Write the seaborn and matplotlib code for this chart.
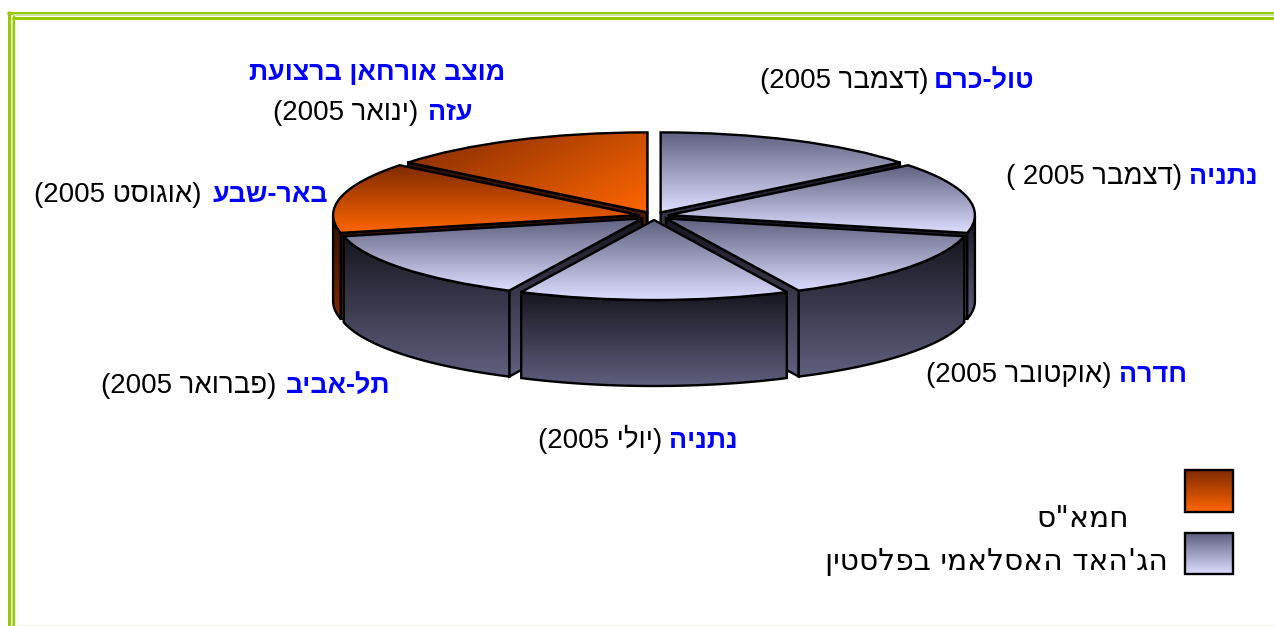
import re
import numpy as np
import matplotlib
matplotlib.use("Agg")
import matplotlib.pyplot as plt
from matplotlib.patches import Polygon, Rectangle
import seaborn as sns

# ---------- data ----------
places = ["טול-כרם", "נתניה", "חדרה", "נתניה", "תל-אביב", "באר-שבע", "עזה"]
dates = ["(דצמבר 2005)", "(דצמבר 2005 )", "(אוקטובר 2005)", "(יולי 2005)",
         "(פברואר 2005)", "(אוגוסט 2005)", "(ינואר 2005)"]
attack_counts = [1, 1, 1, 1, 1, 1, 1]
groups = ["ג", "ג", "ג", "ג", "ג", "ח", "ח"]
extra_label = "מוצב אורחאן ברצועת"
legend_hamas = 'חמא"ס'
legend_jihad = "הג'האד האסלאמי בפלסטין"

# ---------- layout / style ----------
W, H = 1274, 626
CX, CY, RX, RY = 654, 216, 306, 80
DEPTH = 86 / RY
EXPLODE = 0.05
LW = 1.7
top_cmap = {"ג": sns.blend_palette(["#5F5F7F", "#DDDDFF"], as_cmap=True),
            "ח": sns.blend_palette(["#7F2A00", "#FF6600"], as_cmap=True)}
side_cmap = {"ג": sns.blend_palette(["#16161F", "#5F5F7F"], as_cmap=True),
             "ח": sns.blend_palette(["#2E1000", "#7F2A00"], as_cmap=True)}

sns.set_theme(style="white")
plt.rcParams["font.family"] = ["Liberation Sans", "DejaVu Sans"]


def visual(s):
    """matplotlib lays text out left to right, so put Hebrew in display order."""
    r = s[::-1]
    r = re.sub(r"\d+", lambda m: m.group(0)[::-1], r)
    return r.translate(str.maketrans("()", ")("))


def gradient_fill(ax, patch, xs, ys, cmap, zorder):
    ax.add_patch(patch)
    patch.set_zorder(zorder + 0.5)
    v = np.linspace(0, 1, 200)[:, None]
    im = ax.imshow(v, extent=(np.min(xs), np.max(xs), np.min(ys), np.max(ys)), origin="upper",
                   cmap=cmap, vmin=0, vmax=1, aspect="auto", zorder=zorder,
                   interpolation="bilinear")
    im.set_clip_path(patch)


fig = plt.figure(figsize=(W / 100, H / 100), dpi=100, facecolor="white")
ax = fig.add_axes([0, 0, 1, 1])
wedges, _ = ax.pie(attack_counts, explode=[EXPLODE] * len(attack_counts), startangle=90,
                   counterclock=False, radius=1, center=(0, 0),
                   wedgeprops=dict(facecolor="none", edgecolor="black", linewidth=LW))

order = [0, 6, 1, 5, 2, 4, 3]
for k, i in enumerate(order):
    w = wedges[i]
    g = groups[i]
    cx, cy = w.center
    t1, t2 = w.theta1, w.theta2
    z = 10 + k * 10
    angles = np.radians(np.linspace(t1, t2, 120))
    ax_, ay_ = cx + np.cos(angles), cy + np.sin(angles)

    # radial cut faces
    for theta, show in ((t1, np.cos(np.radians(t1)) > 0), (t2, np.cos(np.radians(t2)) < 0)):
        if show:
            ex, ey = cx + np.cos(np.radians(theta)), cy + np.sin(np.radians(theta))
            xs = [cx, ex, ex, cx]
            ys = [cy, ey, ey - DEPTH, cy - DEPTH]
            p = Polygon(np.c_[xs, ys], closed=True, facecolor="none", edgecolor="black", linewidth=LW)
            gradient_fill(ax, p, xs, ys, side_cmap[g], z)

    # outer wall
    mask = np.sin(angles) <= 0
    if mask.sum() > 1:
        xs = np.r_[ax_[mask], ax_[mask][::-1]]
        ys = np.r_[ay_[mask], ay_[mask][::-1] - DEPTH]
        p = Polygon(np.c_[xs, ys], closed=True, facecolor="none", edgecolor="black", linewidth=LW)
        gradient_fill(ax, p, xs, ys, side_cmap[g], z + 2)

    # top face: the pie's own wedge
    xs = np.r_[ax_, cx]
    ys = np.r_[ay_, cy]
    w.set_zorder(z + 5)
    v = np.linspace(0, 1, 200)[:, None] * np.ones((200, 200))
    if i == 6:
        v = 0.4 * v + 0.6 * np.linspace(0, 1, 200)[None, :]
    im = ax.imshow(v, extent=(xs.min(), xs.max(), ys.min(), ys.max()), origin="upper",
                   cmap=top_cmap[g], vmin=0, vmax=1, aspect="auto", zorder=z + 4,
                   interpolation="bilinear")
    im.set_clip_path(w)

ax.set_aspect("auto")
ax.set_xlim((0 - CX) / RX, (W - CX) / RX)
ax.set_ylim((CY - H) / RY, CY / RY)
ax.axis("off")

# ---------- overlay in pixel units: frame, labels, legend ----------
ov = fig.add_axes([0, 0, 1, 1], zorder=5)
ov.patch.set_alpha(0)
ov.axis("off")

GREEN = "#99CC00"
for x, lw, c in ((8.5, 3, GREEN), (12.3, 1.2, "#CFE3A0"), (14, 2.2, GREEN)):
    ov.plot([x, x], [11 if x < 10 else 16, H], color=c, lw=lw * 0.72, solid_capstyle="butt")
for y, lw, c in ((12.5, 3, GREEN), (15, 2, "#CFE3A0"), (17.5, 3, GREEN)):
    ov.plot([7 if y < 13 else 12.9, W], [y, y], color=c, lw=lw * 0.72, solid_capstyle="butt")
ov.plot([15, W], [625, 625], color="#F4F4E6", lw=1.0)

# right edge of place name, right edge of date, baseline
label_pos = [(1034, 929, 88), (1258, 1182, 184), (1187, 1112, 382), (738, 662, 448),
             (390, 276, 393), (328, 201, 202), (472, 418, 120)]
FS_NAME, FS_DATE = 19.4, 19.9
for place, date, (xb, xd, yb) in zip(places, dates, label_pos):
    ov.text(xb, yb, visual(place), color="#0000FF", fontweight="bold", fontsize=FS_NAME,
            ha="right", va="baseline")
    ov.text(xd, yb, visual(date), color="black", fontsize=FS_DATE, ha="right", va="baseline")
ov.text(505, 80, visual(extra_label), color="#0000FF", fontweight="bold", fontsize=FS_NAME,
        ha="right", va="baseline")

# legend
for (y0, y1), g in (((470, 512), "ח"), ((533, 574), "ג")):
    ov.imshow(np.linspace(0, 1, 100)[:, None], extent=(1185, 1233, y1, y0), cmap=top_cmap[g],
              vmin=0, vmax=1, aspect="auto", origin="upper", zorder=3)
    ov.add_patch(Rectangle((1185, y0), 48, y1 - y0, facecolor="none", edgecolor="black",
                           linewidth=LW, zorder=4))
ov.text(1129, 527, visual(legend_hamas), family=["DejaVu Sans"], fontsize=21.4, color="black",
        ha="right", va="baseline")
ov.text(1168, 570, visual(legend_jihad), family=["DejaVu Sans"], fontsize=21.4, color="black",
        ha="right", va="baseline")

ov.set_xlim(0, W)
ov.set_ylim(H, 0)

fig.savefig("out.png", dpi=100, facecolor="white")
